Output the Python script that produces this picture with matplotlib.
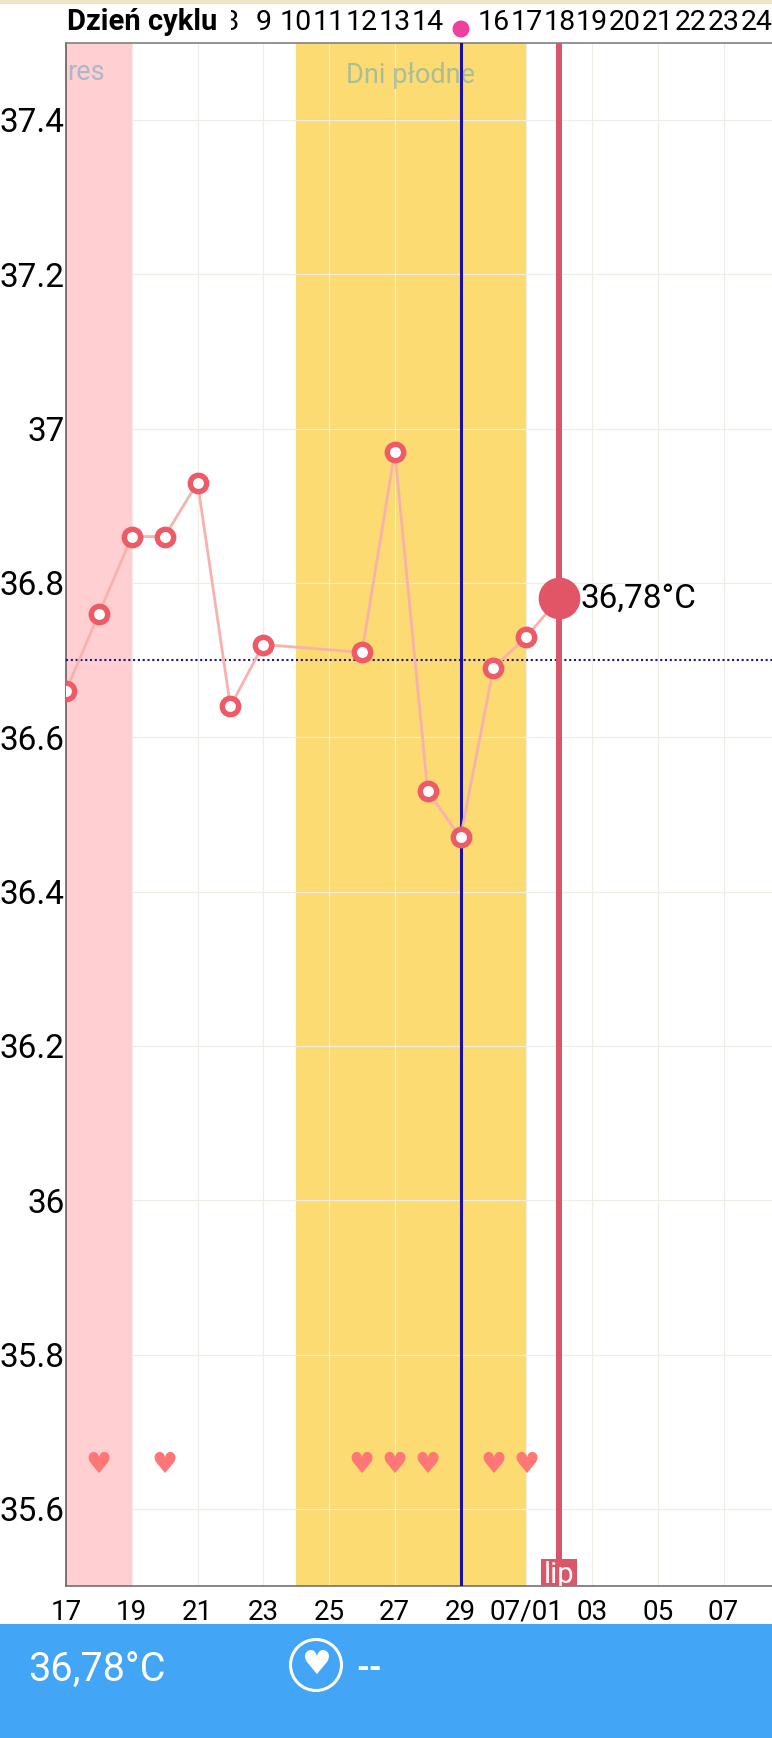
import matplotlib

matplotlib.use("Agg")
import matplotlib.pyplot as plt
from matplotlib.patches import Circle, Rectangle

W, H = 772, 1738

# x positions are days counted from 17 June
days = [0, 1, 2, 3, 4, 5, 6, 9, 10, 11, 12, 13, 14, 15]
temps = [36.66, 36.76, 36.86, 36.86, 36.93, 36.64, 36.72, 36.71, 36.97, 36.53, 36.47, 36.69, 36.73, 36.78]
heart_days = [1, 3, 9, 10, 11, 13, 14]
heart_level = 35.662

date_ticks = [0, 2, 4, 6, 8, 10, 12, 14, 16, 18, 20]
date_labels = ["17", "19", "21", "23", "25", "27", "29", "07/01", "03", "05", "07"]
temp_ticks = [37.4, 37.2, 37.0, 36.8, 36.6, 36.4, 36.2, 36.0, 35.8, 35.6]
temp_labels = ["37.4", "37.2", "37", "36.8", "36.6", "36.4", "36.2", "36", "35.8", "35.6"]
minor_ticks = [37.3, 37.1, 36.9, 36.7, 36.5, 36.3, 36.1, 35.9, 35.7]

cycle_days = [8, 9, 10, 11, 12, 13, 14, 16, 17, 18, 19, 20, 21, 22, 23, 24]
cycle_x = [5, 6, 7, 8, 9, 10, 11, 13, 14, 15, 16, 17, 18, 19, 20, 21]

period_span = (0, 2)
fertile_span = (7, 14)
ovulation_day = 12
today = 15
today_temp = 36.78
cover_temp = 36.7

plt.rcParams["font.family"] = ["Roboto", "DejaVu Sans"]

fig = plt.figure(figsize=(W / 100, H / 100), dpi=100, facecolor="white")
left, right, top, bottom = 66, 772, 42.7, 1586
ax = fig.add_axes([left / W, 1 - bottom / H, (right - left) / W, (bottom - top) / H])
ax.set_xlim(0, (right - left) / 32.88)
ax.set_ylim(35.5, 37.5)

ax.axvspan(*fertile_span, color="#FBDB72", lw=0, zorder=1)
ax.axvspan(*period_span, color="#FFCFD2", lw=0, zorder=2)
ax.set_xticks(date_ticks, date_labels)
ax.set_yticks(temp_ticks, temp_labels)
ax.set_yticks(minor_ticks, minor=True)
ax.set_axisbelow("line")
ax.grid(True, color="#EFEDE6", lw=0.85)
ax.tick_params(axis="x", length=0, labelsize=20, pad=9, colors="black")
ax.tick_params(axis="y", length=0, labelsize=24, pad=1, colors="black")
ax.tick_params(axis="y", which="minor", length=9.5, width=0.9, direction="in", color="#444444")
ax.spines["right"].set_visible(False)
ax.spines["left"].set_color("#555555")
ax.spines["top"].set_color("#777777")
ax.spines["bottom"].set_color("#666666")
for side in ["left", "top", "bottom"]:
    ax.spines[side].set_linewidth(1.1)

ax.text(0.03, 37.462, "res", color="#5AA0BE", alpha=0.5, fontsize=19.5, ha="left", va="center", zorder=2.5)
ax.text(10.47, 37.457, "Dni płodne", color="#5AA0BE", alpha=0.5, fontsize=19.5, ha="center", va="center", zorder=2.5)

ax.axhline(cover_temp, color="#1A1490", lw=1.5, ls=(0, (1, 1.3)), zorder=3)
ax.axvline(ovulation_day, color="#1A0FA0", lw=2.2, zorder=3.2)
ax.axvline(today, color="#D9566A", lw=4.3, zorder=3.4)

ax.plot(days, temps, color="#F8B2AE", lw=2, zorder=4)
ax.plot(days[:-1], temps[:-1], "o", ms=11.8, mfc="white", mec="#EE5A65", mew=3.9, ls="none", zorder=5)
ax.plot([today], [today_temp], "o", ms=30, color="#E15566", mew=0, zorder=6, clip_on=False)
ax.annotate("36,78°C", (today, today_temp), xytext=(15, 0), textcoords="offset points",
            fontsize=24, color="black", va="center", ha="left", zorder=7)

for d in heart_days:
    ax.annotate("♥", (d, heart_level), xytext=(0, -3), textcoords="offset points",
                family=["DejaVu Sans"], color="#FF7676", fontsize=21,
                ha="center", va="center", zorder=6, annotation_clip=False)

# month tag sitting on the bottom of the today line, cut off by the axis
ax.annotate("lip", (today, 35.5), xytext=(0, -2.5), textcoords="offset points", color="white",
            fontsize=21, ha="center", va="bottom", zorder=8, clip_on=True,
            bbox=dict(boxstyle="square,pad=0.1", fc="#DC5569", ec="none"))

# chrome: everything outside the plot, in screen pixels
ui = fig.add_axes([0, 0, 1, 1], zorder=10)
ui.set_xlim(0, W)
ui.set_ylim(H, 0)
ui.axis("off")
ui.add_patch(Rectangle((0, 0), W, 4, color="#EFE3C8", lw=0))

for x, d in zip(cycle_x, cycle_days):
    px = left + x * 32.88
    ui.text(px, 23, str(d), fontsize=20.5, ha="center", va="center", color="black")
ui.add_patch(Rectangle((0, 5), 231, 35, color="white", lw=0, zorder=3))
ui.text(67, 22, "Dzień cyklu", fontsize=21, fontweight="bold", ha="left", va="center", color="black", zorder=4)
ui.add_patch(Circle((461, 29), 8.5, color="#F0409F", lw=0))

ui.add_patch(Rectangle((0, 1624), W, H - 1624, color="#42A5F5", lw=0))
ui.text(28, 1669, "36,78°C", fontsize=28.5, color="white", ha="left", va="center", zorder=4)
ui.add_patch(Circle((316, 1665), 25.5, fc="none", ec="white", lw=2.2, zorder=4))
ui.text(316, 1665, "♥", family=["DejaVu Sans"], fontsize=24, color="white", ha="center", va="center", zorder=4)
ui.text(356, 1669, "--", fontsize=24, fontweight="bold", color="white", ha="left", va="center", zorder=4)

fig.savefig("out.png", dpi=100)
